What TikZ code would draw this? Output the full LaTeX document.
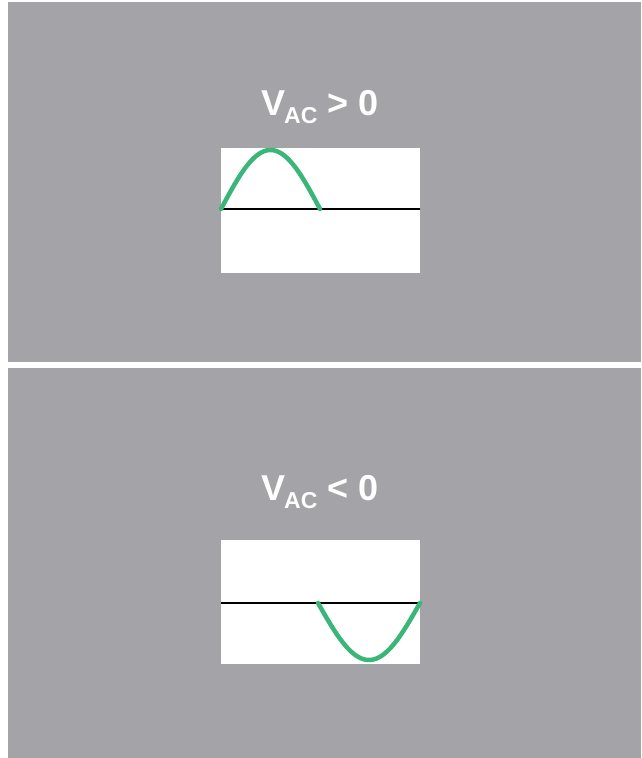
\documentclass[tikz,border=0pt]{standalone}
\usepackage{fontspec}
\setmainfont{Liberation Sans}
\definecolor{panelgray}{RGB}{164,163,167}
\definecolor{wavegreen}{RGB}{58,182,120}
\tikzset{
  panel/.style={fill=panelgray, draw=none},
  plotbox/.style={fill=white, draw=none},
  axisline/.style={black, line width=2pt},
  wave/.style={wavegreen, line width=4.5pt, line cap=round},
  label/.style={text=white, font=\bfseries\fontsize{36}{36}\selectfont, anchor=base west, inner sep=0pt}
}
\newcommand{\vacsub}{\kern-1pt\raisebox{-8pt}{\fontsize{23}{23}\selectfont AC}}
\begin{document}
\begin{tikzpicture}[x=1pt,y=-1pt]
\useasboundingbox (0,0) rectangle (641,758);
\fill[white] (0,0) rectangle (641,758);
% top panel
\fill[panel] (8,2) rectangle (641,362);
\fill[plotbox] (221,148) rectangle (420,273);
\node[label] (t1) at (261,115) {V\vacsub\ > 0};
\draw[axisline] (221,209) -- (420,209);
\draw[wave] plot[domain=0:180, samples=60] ({221+\x/180*99},{209-59*sin(\x)});
% bottom panel
\fill[panel] (8,368) rectangle (641,758);
\fill[plotbox] (221,540) rectangle (420,664);
\node[label] (t2) at (261,500) {V\vacsub\ < 0};
\draw[axisline] (221,603) -- (420,603);
\draw[wave] plot[domain=0:180, samples=60] ({318+\x/180*102},{603+57*sin(\x)});
\end{tikzpicture}
\end{document}
